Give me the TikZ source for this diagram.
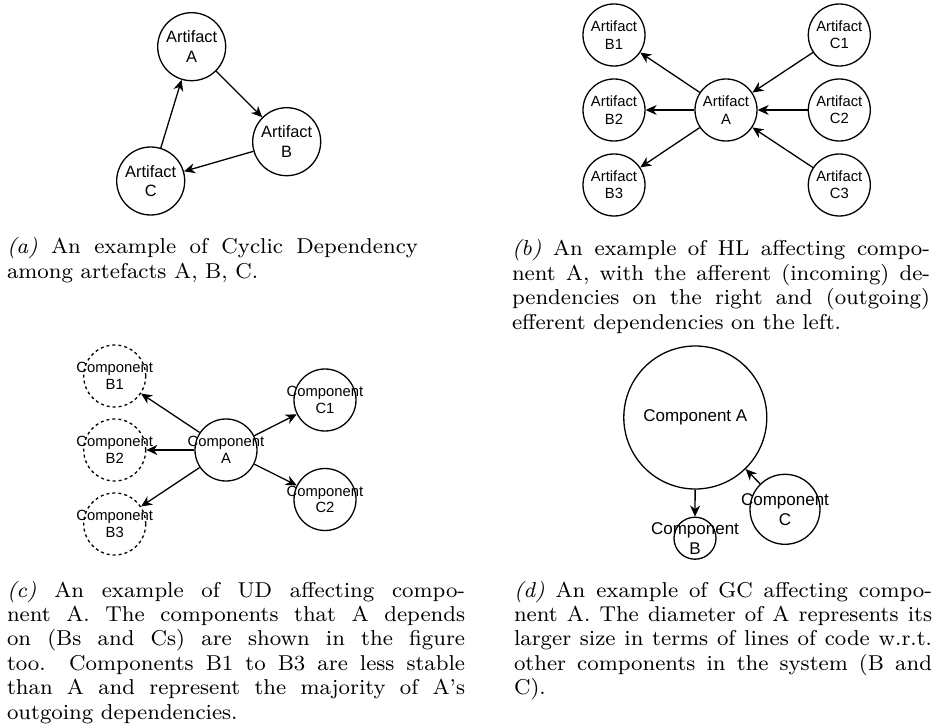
\documentclass[tikz,border=0pt]{standalone}
\usepackage{fontspec}
\usepackage{graphicx}
\usetikzlibrary{arrows.meta}
\newfontfamily\diagfont{Liberation Sans}
\newcommand\zw[1]{\makebox[0pt]{#1}}
\newcommand\capscale{2.69}
\newcommand\capfont{\fontsize{8}{9.08}\selectfont}
\tikzset{
  circ/.style={circle, draw, line width=1.3pt, inner sep=0pt, align=center},
  dashcirc/.style={circ, dash pattern=on 3pt off 3pt},
  arr/.style={-{Stealth[length=11pt,width=10pt,inset=3.5pt]}, line width=1.3pt},
  fa/.style={font=\diagfont\fontsize{16.4}{19.6}\selectfont},
  fb/.style={font=\diagfont\fontsize{14.8}{17.3}\selectfont},
  fc/.style={font=\diagfont\fontsize{14.8}{16.8}\selectfont},
  fd/.style={font=\diagfont\fontsize{17}{20}\selectfont},
  capnode/.style={anchor=base west, inner sep=0pt, outer sep=0pt},
}
\begin{document}
\begin{tikzpicture}[x=1pt,y=-1pt]
\useasboundingbox (0,0) rectangle (935,727);
% ---------- (a)
\node[circ,fa,minimum size=68pt] (aA) at (191.7,46.7) {\zw{Artifact}\\A};
\node[circ,fa,minimum size=68pt] (aB) at (286.7,141.7) {\zw{Artifact}\\B};
\node[circ,fa,minimum size=68pt] (aC) at (150.7,181) {\zw{Artifact}\\C};
\draw[arr] (aA) -- (aB);
\draw[arr] (aB) -- (aC);
\draw[arr] (aC) -- (aA);
% ---------- (b)
\node[circ,fb,minimum size=62pt] (bB1) at (614,35) {\zw{Artifact}\\B1};
\node[circ,fb,minimum size=62pt] (bB2) at (614,110) {\zw{Artifact}\\B2};
\node[circ,fb,minimum size=62pt] (bB3) at (614,185) {\zw{Artifact}\\B3};
\node[circ,fb,minimum size=62pt] (bA) at (726,110) {\zw{Artifact}\\A};
\node[circ,fb,minimum size=62pt] (bC1) at (839.3,35) {\zw{Artifact}\\C1};
\node[circ,fb,minimum size=62pt] (bC2) at (839.3,110) {\zw{Artifact}\\C2};
\node[circ,fb,minimum size=62pt] (bC3) at (839.3,185) {\zw{Artifact}\\C3};
\draw[arr] (bA) -- (bB1);
\draw[arr] (bA) -- (bB2);
\draw[arr] (bA) -- (bB3);
\draw[arr] (bC1) -- (bA);
\draw[arr] (bC2) -- (bA);
\draw[arr] (bC3) -- (bA);
% ---------- (c)
\node[dashcirc,fc,minimum size=62pt] (cB1) at (114.7,376) {\zw{Component}\\B1};
\node[dashcirc,fc,minimum size=62pt] (cB2) at (114.7,450) {\zw{Component}\\B2};
\node[dashcirc,fc,minimum size=62pt] (cB3) at (114.7,524) {\zw{Component}\\B3};
\node[circ,fc,minimum size=62pt] (cA) at (226,450) {\zw{Component}\\A};
\node[circ,fc,minimum size=62pt] (cC1) at (325,400) {\zw{Component}\\C1};
\node[circ,fc,minimum size=62pt] (cC2) at (325,499.5) {\zw{Component}\\C2};
\draw[arr] (cA) -- (cB1);
\draw[arr] (cA) -- (cB2);
\draw[arr] (cA) -- (cB3);
\draw[arr] (cA) -- (cC1);
\draw[arr] (cA) -- (cC2);
% ---------- (d)
\node[circ,fd,minimum size=143pt] (dA) at (695.3,417.5) {\zw{Component A}};
\node[circ,fd,minimum size=42pt] (dB) at (695,538.2) {\zw{Component}\\B};
\node[circ,fd,minimum size=70pt] (dC) at (785,509.3) {\zw{Component}\\C};
\draw[arr] (dA) -- (dB);
\draw[arr] (dC) -- (dA);
% ---------- captions
\node[capnode] (capa) at (7,254) {\scalebox{\capscale}{\parbox[t]{152.8pt}{\capfont
\textit{(a)} An example of Cyclic Dependency among artefacts A, B, C.}}};
\node[capnode] (capb) at (512,256) {\scalebox{\capscale}{\parbox[t]{155.4pt}{\capfont
\textit{(b)} An example of HL affecting compo-\linebreak nent A, with the afferent (incoming) de-\linebreak pendencies on the right and (outgoing)\linebreak efferent dependencies on the left.}}};
\node[capnode] (capc) at (7,597) {\scalebox{\capscale}{\parbox[t]{170.3pt}{\capfont
\textit{(c)} An example of UD affecting compo-\linebreak nent A. The components that A depends\linebreak on (Bs and Cs) are shown in the figure\linebreak too. Components B1 to B3 are less stable\linebreak than A and represent the majority of A's\linebreak outgoing dependencies.}}};
\node[capnode] (capd) at (514,597) {\scalebox{\capscale}{\parbox[t]{155.4pt}{\capfont
\textit{(d)} An example of GC affecting compo-\linebreak nent A. The diameter of A represents its\linebreak larger size in terms of lines of code w.r.t.\linebreak other components in the system (B and\linebreak C).}}};
\end{tikzpicture}
\end{document}
